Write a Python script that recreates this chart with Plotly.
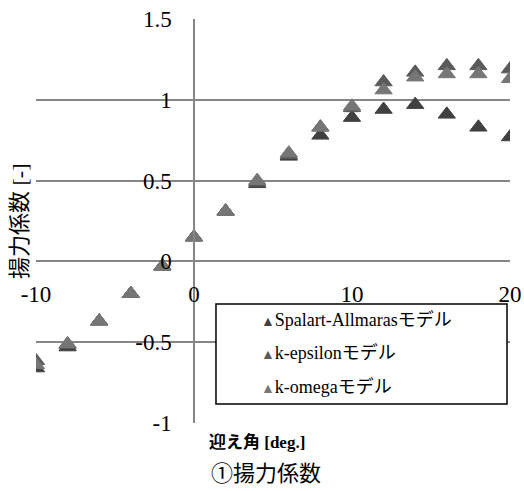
import plotly.graph_objects as go

# ---- data ----
angles = [-10, -8, -6, -4, -2, 0, 2, 4, 6, 8, 10, 12, 14, 16, 18, 20]
spalart_allmaras = [-0.66, -0.53, -0.37, -0.20, -0.03, 0.15, 0.31, 0.48, 0.65, 0.78, 0.89, 0.94, 0.97, 0.91, 0.83, 0.77]
k_epsilon = [-0.615, -0.515, -0.37, -0.20, -0.03, 0.15, 0.31, 0.49, 0.66, 0.83, 0.95, 1.11, 1.17, 1.21, 1.21, 1.19]
k_omega = [-0.64, -0.51, -0.37, -0.20, -0.03, 0.15, 0.31, 0.50, 0.67, 0.83, 0.96, 1.06, 1.14, 1.16, 1.16, 1.13]

series_names = ["Spalart-Allmarasモデル", "k-epsilonモデル", "k-omegaモデル"]
series_colors = ["#404040", "#5a5a5a", "#767676"]

x_tickvals = [-10, 0, 10, 20]
x_ticktext = ["-10", "0", "10", "20"]
y_tickvals = [-1, -0.5, 0, 0.5, 1, 1.5]
y_ticktext = ["-1", "-0.5", "0", "0.5", "1", "1.5"]

x_title = "迎え角 [deg.]"
y_title = "揚力係数 [-]"
chart_title = "①揚力係数"

SERIF = "Liberation Serif, Noto Sans CJK JP, serif"

fig = go.Figure()
for name, ys, col in zip(series_names, [spalart_allmaras, k_epsilon, k_omega], series_colors):
    fig.add_trace(go.Scatter(
        x=angles, y=ys, mode="markers", name=name,
        marker=dict(symbol="triangle-up", size=15, color=col,
                    line=dict(width=1, color=col)),
        showlegend=False,
    ))

fig.update_layout(
    width=524, height=491,
    margin=dict(l=36, r=14, t=19, b=68),
    paper_bgcolor="white", plot_bgcolor="white",
    font=dict(family=SERIF, color="black"),
    xaxis=dict(
        range=[-10, 20], tickmode="array", tickvals=x_tickvals, ticktext=x_ticktext,
        showgrid=False, zeroline=False, showline=False, automargin=False,
        anchor="free", position=0.4, ticks="", ticklabelstandoff=17,
        tickfont=dict(family=SERIF, size=23, color="black"),
    ),
    yaxis=dict(
        range=[-1, 1.5], tickmode="array", tickvals=y_tickvals, ticktext=y_ticktext,
        showgrid=True, gridcolor="#868686", gridwidth=1.5, automargin=False,
        zeroline=False, showline=True, linecolor="#868686", linewidth=1.5,
        anchor="free", position=1/3, ticks="", ticklabelstandoff=17,
        tickfont=dict(family=SERIF, size=23, color="black"),
    ),
)

# legend box
fig.add_shape(type="rect", xref="paper", yref="paper",
              x0=0.3797, x1=0.9937, y0=0.047, y1=0.2946,
              line=dict(color="black", width=1.5), fillcolor="white", layer="above")

legend_y = [0.255, 0.1733, 0.0891]
for name, col, yy in zip(series_names, series_colors, legend_y):
    fig.add_annotation(
        xref="paper", yref="paper", x=0.4705, y=yy, xanchor="left", yanchor="middle",
        showarrow=False,
        text=f"<span style='color:{col};font-size:14px'>▲</span>{name}",
        font=dict(family=SERIF, size=18, color="black"),
    )

# axis titles and chart title
fig.add_annotation(xref="paper", yref="paper", x=-0.0359, y=0.5, xanchor="center", yanchor="middle",
                   showarrow=False, textangle=-90, text=y_title,
                   font=dict(family=SERIF, size=22, color="black"))
fig.add_annotation(xref="paper", yref="paper", x=0.4662, y=-0.047, xanchor="center", yanchor="middle",
                   showarrow=False, text=f"<b>{x_title}</b>",
                   font=dict(family=SERIF, size=17, color="black"))
fig.add_annotation(xref="paper", yref="paper", x=0.4852, y=-0.124, xanchor="center", yanchor="middle",
                   showarrow=False, text=chart_title, borderpad=0,
                   font=dict(family=SERIF, size=22, color="black"))

fig.write_html("out.html", post_script="document.body.style.margin='0';",
               config={"displayModeBar": False})
